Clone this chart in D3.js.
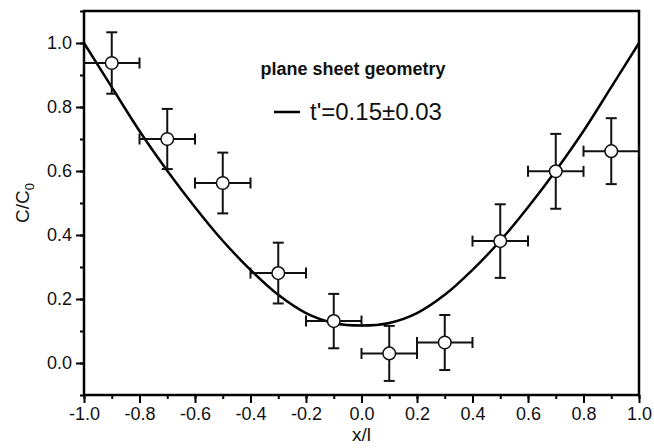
<!DOCTYPE html>
<html>
<head>
<meta charset="utf-8">
<script src="https://cdn.jsdelivr.net/npm/d3@7"></script>
<style>
  body { margin: 0; background: #fff; overflow: hidden; }
  svg { display: block; font-family: Arial, "Liberation Sans", sans-serif; }
</style>
</head>
<body>
<svg id="chart"></svg>
<script>
// measured points
const xVals = [-0.9, -0.7, -0.5, -0.3, -0.1, 0.1, 0.3, 0.5, 0.7, 0.9];
const yVals = [0.9375, 0.70, 0.5625, 0.281, 0.131, 0.030, 0.064, 0.381, 0.599, 0.662];
const yErr = [0.096, 0.094, 0.095, 0.095, 0.085, 0.086, 0.086, 0.115, 0.117, 0.103];
const xErr = [0.1, 0.1, 0.1, 0.1, 0.1, 0.1, 0.1, 0.1, 0.1, 0.1];

// fitted curve
const curveX = [-1.0, -0.9, -0.8, -0.7, -0.6, -0.5, -0.4, -0.3, -0.2, -0.1, 0.0, 0.1, 0.2, 0.3, 0.4, 0.5, 0.6, 0.7, 0.8, 0.9, 1.0];
const curveY = [1.0, 0.862, 0.725, 0.601, 0.487, 0.382, 0.291, 0.213, 0.156, 0.125, 0.117, 0.125, 0.156, 0.213, 0.291, 0.382, 0.487, 0.601, 0.725, 0.862, 1.0];

const xTicks = [-1.0, -0.8, -0.6, -0.4, -0.2, 0.0, 0.2, 0.4, 0.6, 0.8, 1.0];
const yTicks = [0.0, 0.2, 0.4, 0.6, 0.8, 1.0];

const w = 654, h = 448;
const margin = {top: 11, right: 15, bottom: 53, left: 84};
const innerWidth = w - margin.left - margin.right;
const innerHeight = h - margin.top - margin.bottom;

const svg = d3.select('#chart').attr('width', w).attr('height', h);
const g = svg.append('g').attr('transform', `translate(${margin.left},${margin.top})`);

const xScale = d3.scaleLinear().domain([-1, 1]).range([0, innerWidth]);
const yScale = d3.scaleLinear().domain([-0.1, 1.1]).range([innerHeight, 0]);

const fmt = d => d.toFixed(1);

// minor ticks
const xMinor = d3.axisBottom(xScale).ticks(20).tickSize(4).tickFormat('');
const yMinor = d3.axisLeft(yScale).tickValues(d3.range(-0.1, 1.11, 0.1)).tickSize(4).tickFormat('');
g.append('g').attr('transform', `translate(0,${innerHeight})`).call(xMinor)
  .call(a => a.select('.domain').remove())
  .selectAll('line').attr('stroke-width', 2);
g.append('g').call(yMinor)
  .call(a => a.select('.domain').remove())
  .selectAll('line').attr('stroke-width', 2);

// major ticks
const xAxisG = g.append('g').attr('transform', `translate(0,${innerHeight})`)
  .call(d3.axisBottom(xScale).tickValues(xTicks).tickSize(8).tickPadding(4).tickFormat(fmt));
xAxisG.select('.domain').remove();
xAxisG.selectAll('line').attr('stroke-width', 2);
xAxisG.selectAll('text').attr('font-size', 18).attr('fill', '#111');

const yAxisG = g.append('g')
  .call(d3.axisLeft(yScale).tickValues(yTicks).tickSize(8).tickPadding(4).tickFormat(fmt));
yAxisG.select('.domain').remove();
yAxisG.selectAll('line').attr('stroke-width', 2);
yAxisG.selectAll('text').attr('font-size', 18).attr('fill', '#111');

// frame
g.append('rect')
  .attr('width', innerWidth).attr('height', innerHeight)
  .attr('fill', 'none').attr('stroke', '#000').attr('stroke-width', 2.5);

// axis titles
svg.append('text')
  .attr('x', margin.left + innerWidth / 2).attr('y', 441)
  .attr('text-anchor', 'middle').attr('font-size', 19).attr('fill', '#111')
  .text('x/l');

const yLab = svg.append('text')
  .attr('transform', `translate(29,${margin.top + innerHeight / 2}) rotate(-90)`)
  .attr('text-anchor', 'middle').attr('font-size', 19).attr('fill', '#111');
yLab.append('tspan').text('C/C');
yLab.append('tspan').attr('font-size', 13).attr('dy', 5).text('0');

// fitted curve
const line = d3.line()
  .x((d, i) => xScale(curveX[i]))
  .y(d => yScale(d))
  .curve(d3.curveCatmullRom);
g.append('path').datum(curveY)
  .attr('d', line)
  .attr('fill', 'none').attr('stroke', '#000').attr('stroke-width', 2.5);

// error bars
const pts = xVals.map((x, i) => ({x: x, y: yVals[i], ey: yErr[i], ex: xErr[i]}));
const cap = 5.5;
const eg = g.append('g').attr('stroke', '#111').attr('stroke-width', 2);
pts.forEach(d => {
  const cx = xScale(d.x), cy = yScale(d.y);
  const y1 = yScale(d.y + d.ey), y2 = yScale(d.y - d.ey);
  const x1 = xScale(d.x - d.ex), x2 = xScale(d.x + d.ex);
  eg.append('line').attr('x1', cx).attr('x2', cx).attr('y1', y1).attr('y2', y2);
  eg.append('line').attr('x1', cx - cap).attr('x2', cx + cap).attr('y1', y1).attr('y2', y1);
  eg.append('line').attr('x1', cx - cap).attr('x2', cx + cap).attr('y1', y2).attr('y2', y2);
  eg.append('line').attr('x1', x1).attr('x2', x2).attr('y1', cy).attr('y2', cy);
  eg.append('line').attr('x1', x1).attr('x2', x1).attr('y1', cy - cap).attr('y2', cy + cap);
  eg.append('line').attr('x1', x2).attr('x2', x2).attr('y1', cy - cap).attr('y2', cy + cap);
});

g.selectAll('circle').data(pts)
  .enter().append('circle')
    .attr('cx', d => xScale(d.x))
    .attr('cy', d => yScale(d.y))
    .attr('r', 6.3)
    .attr('fill', '#fff')
    .attr('stroke', '#111')
    .attr('stroke-width', 1.5);

// legend
svg.append('text')
  .attr('x', 353).attr('y', 75)
  .attr('text-anchor', 'middle').attr('font-size', 18).attr('font-weight', 'bold').attr('fill', '#111')
  .text('plane sheet geometry');
svg.append('line')
  .attr('x1', 274).attr('x2', 300).attr('y1', 112).attr('y2', 112)
  .attr('stroke', '#000').attr('stroke-width', 2.5);
svg.append('text')
  .attr('x', 310).attr('y', 120)
  .attr('font-size', 24).attr('fill', '#111')
  .text("t'=0.15\u00b10.03");
</script>
</body>
</html>
